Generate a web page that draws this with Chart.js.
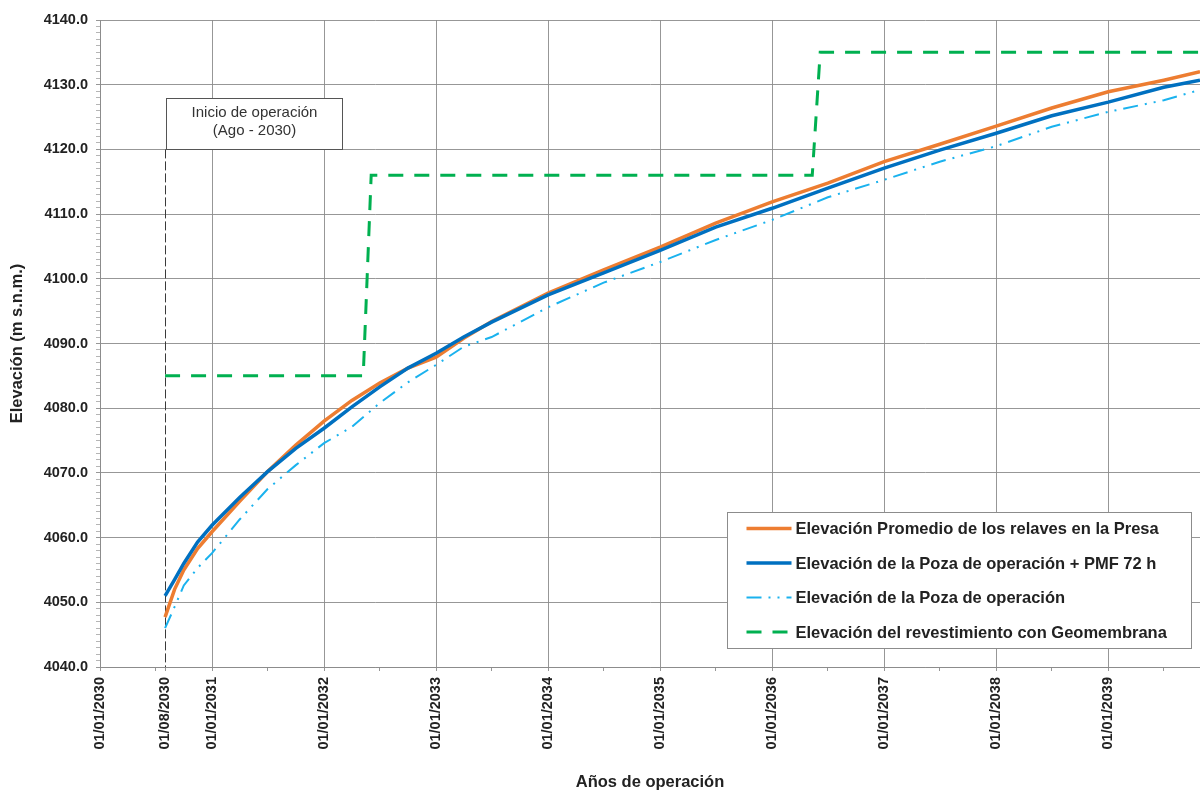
<!DOCTYPE html>
<html lang="es">
<head>
<meta charset="utf-8">
<title>Elevación vs años de operación</title>
<script src="https://cdn.jsdelivr.net/npm/chart.js@4.4.1/dist/chart.umd.min.js"></script>
<style>
  html, body { margin: 0; padding: 0; background: #fff; overflow: hidden; }
  #wrap { width: 1200px; height: 792px; position: relative; }
</style>
</head>
<body>
<div id="wrap"><canvas id="grafico"></canvas></div>
<script>
// Fechas de lectura de las curvas (aaaa-mm-dd)
const fechas = [
    '2030-08-01', '2030-09-01', '2030-10-01', '2030-11-15', '2031-01-01', '2031-04-01', '2031-07-01',
    '2031-10-01', '2032-01-01', '2032-04-01', '2032-07-01', '2032-10-01', '2033-01-01', '2033-04-01',
    '2033-07-01', '2034-01-01', '2034-07-01', '2035-01-01', '2035-07-01', '2036-01-01', '2036-07-01',
    '2037-01-01', '2037-07-01', '2038-01-01', '2038-07-01', '2039-01-01', '2039-07-01', '2039-10-27'
];
const relavesPromedio = [
    4047.7, 4052.0, 4055.0, 4058.3, 4060.9, 4065.6, 4070.2,
    4074.3, 4078.0, 4081.2, 4083.9, 4086.2, 4087.9, 4090.8,
    4093.4, 4097.8, 4101.4, 4104.9, 4108.6, 4111.9, 4114.8,
    4118.1, 4120.8, 4123.6, 4126.4, 4128.9, 4130.7, 4132.0
];
const pozaMasPMF = [
    4051.0, 4053.5, 4056.0, 4059.3, 4061.9, 4066.2, 4070.2,
    4073.8, 4076.9, 4080.2, 4083.3, 4086.2, 4088.5, 4091.0,
    4093.3, 4097.5, 4100.9, 4104.4, 4108.0, 4110.9, 4114.0,
    4117.1, 4119.9, 4122.5, 4125.2, 4127.3, 4129.6, 4130.7
];
const pozaOperacion = [
    4046.0, 4049.3, 4052.6, 4055.3, 4057.6, 4062.8, 4067.5,
    4071.2, 4074.6, 4077.1, 4080.8, 4084.0, 4086.7, 4089.5,
    4091.0, 4095.6, 4099.4, 4102.6, 4106.0, 4109.1, 4112.6,
    4115.3, 4118.1, 4120.5, 4123.5, 4125.8, 4127.6, 4129.2
];

// Revestimiento con geomembrana (escalones)
const fechasGeomembrana = ['2030-08-01', '2032-05-08', '2032-06-03', '2036-05-11', '2036-06-06', '2039-10-27'];
const geomembrana = [4085, 4085, 4116, 4116, 4135, 4135];

// Ejes
const ticksAnuales = [
    '2030-01-01', '2030-08-01', '2031-01-01', '2032-01-01', '2033-01-01', '2034-01-01',
    '2035-01-01', '2036-01-01', '2037-01-01', '2038-01-01', '2039-01-01'
];
const ticksSemestrales = [
    '2030-07-01', '2031-07-01', '2032-07-01', '2033-07-01', '2034-07-01',
    '2035-07-01', '2036-07-01', '2037-07-01', '2038-07-01', '2039-07-01'
];
const fechaMin = '2030-01-01';
const fechaMax = '2039-10-27';
const elevMin = 4040;
const elevMax = 4140;

const fechaInicio = '2030-08-01';
const elevEtiqueta = 4120;
const textoInicio = ['Inicio de operación', '(Ago - 2030)'];

const FONT = '"Liberation Sans", Arial, sans-serif';
const GRID = 'rgba(140,140,140,0.9)';

// fecha 'aaaa-mm-dd' -> año decimal
function toYear(s) {
    const [a, m, d] = s.split('-').map(Number);
    const ini = Date.UTC(a, 0, 1);
    const fin = Date.UTC(a + 1, 0, 1);
    return a + (Date.UTC(a, m - 1, d) - ini) / (fin - ini);
}

const etiquetasX = new Map();
ticksAnuales.forEach(s => etiquetasX.set(toYear(s).toFixed(4), s.split('-').reverse().join('/')));
const inicioKey = toYear(fechaInicio).toFixed(4);

function serie(xs, ys) {
    return xs.map((f, i) => ({ x: toYear(f), y: ys[i] }));
}

const anotaciones = {
    id: 'anotaciones',
    beforeDatasetsDraw(chart) {
        const { ctx, scales: { x, y }, chartArea } = chart;
        const px = Math.round(x.getPixelForValue(toYear(fechaInicio))) + 0.5;
        const py = y.getPixelForValue(elevEtiqueta);
        ctx.save();
        ctx.strokeStyle = '#3a3a3a';
        ctx.lineWidth = 1;
        ctx.setLineDash([9, 3]);
        ctx.beginPath();
        ctx.moveTo(px, py);
        ctx.lineTo(px, chartArea.bottom);
        ctx.stroke();
        ctx.restore();
    },
    afterDatasetsDraw(chart) {
        const { ctx, scales: { x, y }, chartArea } = chart;

        // Cuadro "Inicio de operación"
        const px = Math.round(x.getPixelForValue(toYear(fechaInicio))) + 1.5;
        const py = Math.round(y.getPixelForValue(elevEtiqueta)) + 0.5;
        const bw = 176, bh = 51;
        ctx.save();
        ctx.fillStyle = '#fff';
        ctx.fillRect(px, py - bh, bw, bh);
        ctx.strokeStyle = '#555';
        ctx.lineWidth = 1;
        ctx.strokeRect(px, py - bh, bw, bh);
        ctx.fillStyle = '#333';
        ctx.font = '15px ' + FONT;
        ctx.textAlign = 'center';
        ctx.textBaseline = 'middle';
        ctx.fillText(textoInicio[0], px + bw / 2, py - 37);
        ctx.fillText(textoInicio[1], px + bw / 2, py - 19);

        // Leyenda
        const lw = 464, lh = 136;
        const lx = Math.round(chartArea.right - 473) + 0.5;
        const ly = Math.round(chartArea.bottom - 155) + 0.5;
        ctx.fillStyle = '#fff';
        ctx.fillRect(lx, ly, lw, lh);
        ctx.strokeStyle = '#8c8c8c';
        ctx.strokeRect(lx, ly, lw, lh);
        ctx.textAlign = 'left';
        ctx.font = 'bold 16.5px ' + FONT;
        chart.data.datasets.forEach((ds, i) => {
            const ry = ly + 16 + i * 34.5;
            ctx.strokeStyle = ds.borderColor;
            ctx.lineWidth = ds.borderWidth;
            ctx.setLineDash(ds.borderDash || []);
            ctx.beginPath();
            ctx.moveTo(lx + 19, ry);
            ctx.lineTo(lx + 64, ry);
            ctx.stroke();
            ctx.setLineDash([]);
            ctx.fillStyle = '#222';
            ctx.fillText(ds.label, lx + 68, ry + 1);
        });
        ctx.restore();
    }
};

new Chart(document.getElementById('grafico'), {
    type: 'line',
    data: {
        datasets: [
            {
                label: 'Elevación Promedio de los relaves en la Presa',
                data: serie(fechas, relavesPromedio),
                borderColor: '#ED7D31',
                borderWidth: 3.5,
                order: 2
            },
            {
                label: 'Elevación de la Poza de operación + PMF 72 h',
                data: serie(fechas, pozaMasPMF),
                borderColor: '#0070C0',
                borderWidth: 3.5,
                order: 1
            },
            {
                label: 'Elevación de la Poza de operación',
                data: serie(fechas, pozaOperacion),
                borderColor: '#1AB2EE',
                borderWidth: 2,
                borderDash: [15, 7, 2, 7, 2, 7],
                order: 3
            },
            {
                label: 'Elevación del revestimiento con Geomembrana',
                data: serie(fechasGeomembrana, geomembrana),
                borderColor: '#00B050',
                borderWidth: 3,
                borderDash: [15, 11],
                order: 4
            }
        ]
    },
    options: {
        responsive: true,
        maintainAspectRatio: false,
        animation: false,
        layout: { padding: { top: 20, right: 0, bottom: 0, left: 0 } },
        elements: {
            point: { radius: 0 },
            line: { tension: 0, fill: false }
        },
        plugins: {
            legend: { display: false },
            tooltip: { enabled: false }
        },
        scales: {
            x: {
                type: 'linear',
                min: toYear(fechaMin),
                max: toYear(fechaMax),
                afterBuildTicks: (scale) => {
                    const t = ticksAnuales.concat(ticksSemestrales).map(s => ({ value: toYear(s) }));
                    t.sort((a, b) => a.value - b.value);
                    scale.ticks = t;
                },
                afterFit: (scale) => { scale.height = 125; },
                ticks: {
                    autoSkip: false,
                    minRotation: 90,
                    maxRotation: 90,
                    padding: 6,
                    color: '#222',
                    font: { family: FONT, size: 14.5, weight: 'bold' },
                    callback: (v) => etiquetasX.get(v.toFixed(4)) || ''
                },
                grid: {
                    color: (c) => {
                        const k = c.tick ? c.tick.value.toFixed(4) : '';
                        return etiquetasX.has(k) && k !== inicioKey ? GRID : 'rgba(0,0,0,0)';
                    },
                    tickColor: GRID,
                    tickLength: 4,
                    lineWidth: 1
                },
                border: { color: GRID, width: 1 },
                title: {
                    display: true,
                    text: 'Años de operación',
                    color: '#222',
                    font: { family: FONT, size: 16.5, weight: 'bold' },
                    padding: { top: 0, bottom: 0 }
                }
            },
            y: {
                min: elevMin,
                max: elevMax,
                afterBuildTicks: (scale) => {
                    const t = [];
                    for (let v = elevMin; v <= elevMax; v++) t.push({ value: v });
                    scale.ticks = t;
                },
                afterFit: (scale) => { scale.width = 100; },
                ticks: {
                    autoSkip: false,
                    padding: 8,
                    color: '#222',
                    font: { family: FONT, size: 14.5, weight: 'bold' },
                    callback: (v) => (v % 10 === 0 ? v.toFixed(1) : '')
                },
                grid: {
                    color: (c) => (c.tick && c.tick.value % 10 === 0 ? GRID : 'rgba(0,0,0,0)'),
                    tickColor: (c) => (c.tick && c.tick.value % 10 === 0 ? GRID : 'rgba(150,150,150,0.7)'),
                    tickLength: 4,
                    lineWidth: 1
                },
                border: { color: GRID, width: 1 },
                title: {
                    display: true,
                    text: 'Elevación (m s.n.m.)',
                    color: '#222',
                    font: { family: FONT, size: 16.5, weight: 'bold' },
                    padding: { top: 8, bottom: 8 }
                }
            }
        }
    },
    plugins: [anotaciones]
});
</script>
</body>
</html>
